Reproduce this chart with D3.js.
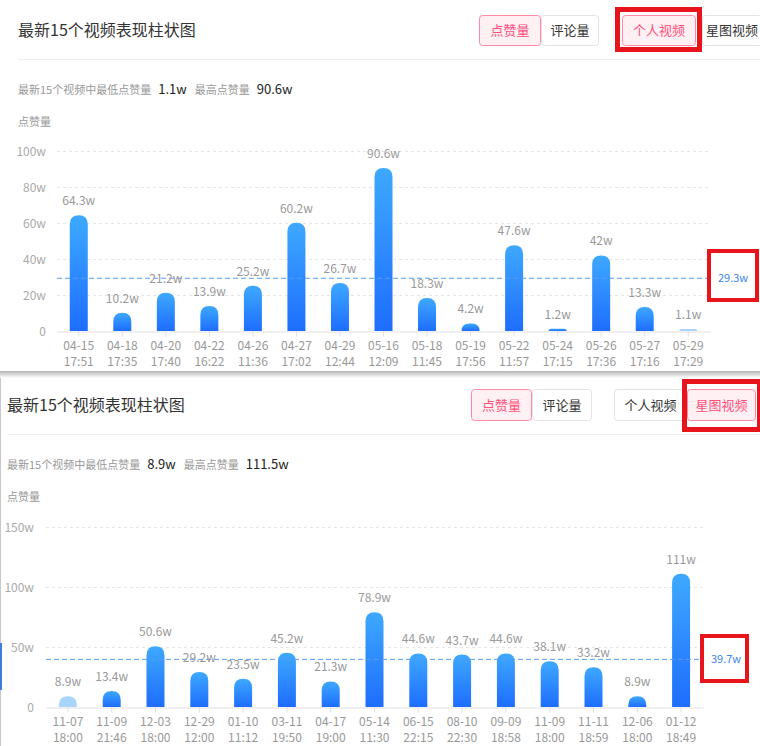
<!DOCTYPE html>
<html>
<head>
<meta charset="utf-8">
<script src="https://cdn.jsdelivr.net/npm/d3@7"></script>
<style>
  body { margin: 0; background: #fff; }
  svg { display: block; font-family: "Noto Sans CJK SC", "Noto Sans", sans-serif; }
</style>
</head>
<body>
<svg id="chart" width="760" height="746"></svg>
<script>
// ---- data: personal videos (top) ----
const personalDates = ["04-15 17:51", "04-18 17:35", "04-20 17:40", "04-22 16:22", "04-26 11:36",
  "04-27 17:02", "04-29 12:44", "05-16 12:09", "05-18 11:45", "05-19 17:56", "05-22 11:57",
  "05-24 17:15", "05-26 17:36", "05-27 17:16", "05-29 17:29"];
const personalLikes = [64.3, 10.2, 21.2, 13.9, 25.2, 60.2, 26.7, 90.6, 18.3, 4.2, 47.6, 1.2, 42, 13.3, 1.1];
const personalTicks = [0, 20, 40, 60, 80, 100];
const personalAvg = 29.3;
const personalMinMax = ["1.1w", "90.6w"];

// ---- data: xingtu videos (bottom) ----
const xingtuDates = ["11-07 18:00", "11-09 21:46", "12-03 18:00", "12-29 12:00", "01-10 11:12",
  "03-11 19:50", "04-17 19:00", "05-14 11:30", "06-15 22:15", "08-10 22:30", "09-09 18:58",
  "11-09 18:00", "11-11 18:59", "12-06 18:00", "01-12 18:49"];
const xingtuLikes = [8.9, 13.4, 50.6, 29.2, 23.5, 45.2, 21.3, 78.9, 44.6, 43.7, 44.6, 38.1, 33.2, 8.9, 111];
const xingtuTicks = [0, 50, 100, 150];
const xingtuAvg = 39.7;
const xingtuMinMax = ["8.9w", "111.5w"];

const svg = d3.select("#chart");

const defs = svg.append("defs");
const grad = defs.append("linearGradient").attr("id", "barGrad")
  .attr("x1", 0).attr("y1", 0).attr("x2", 0).attr("y2", 1);
grad.append("stop").attr("offset", "0%").attr("stop-color", "#3ea9ff");
grad.append("stop").attr("offset", "100%").attr("stop-color", "#1e6dfd");
const shadow = defs.append("linearGradient").attr("id", "shadowGrad")
  .attr("x1", 0).attr("y1", 0).attr("x2", 0).attr("y2", 1);
shadow.append("stop").attr("offset", "0%").attr("stop-color", "#b5b5b5");
shadow.append("stop").attr("offset", "100%").attr("stop-color", "#fff");

// rounded-top bar
function barPath(x, y, w, h, r) {
  r = Math.min(r, h, w / 2);
  return `M${x},${y + h}V${y + r}Q${x},${y} ${x + r},${y}H${x + w - r}Q${x + w},${y} ${x + w},${y + r}V${y + h}Z`;
}

function button(g, x, y, w, h, text, active) {
  g.append("rect").attr("x", x + 0.5).attr("y", y + 0.5).attr("width", w - 1).attr("height", h - 1)
    .attr("rx", 3)
    .attr("fill", active ? "#fff0f3" : "#fff")
    .attr("stroke", active ? "#ff8aa6" : "#e3e3e3");
  g.append("text").attr("x", x + w / 2).attr("y", y + h / 2 + 4.5)
    .attr("text-anchor", "middle").attr("font-size", 13)
    .attr("fill", active ? "#ff4f7b" : "#333").text(text);
}

function redBox(x, y, w, h, sw) {
  svg.append("rect").attr("x", x + sw / 2).attr("y", y + sw / 2)
    .attr("width", w - sw).attr("height", h - sw)
    .attr("fill", "none").attr("stroke", "#e8141c").attr("stroke-width", sw);
}

function panel(cfg) {
  const g = svg.append("g");
  const L = cfg.left;

  // title
  g.append("text").attr("x", L).attr("y", cfg.titleY + 5.5).attr("font-size", 16)
    .attr("fill", "#333").text("最新15个视频表现柱状图");
  g.append("line").attr("x1", L).attr("x2", 760).attr("y1", cfg.divY + 0.5).attr("y2", cfg.divY + 0.5)
    .attr("stroke", "#eee");

  // buttons
  const b = cfg.btn;
  button(g, b[1], cfg.btnY, b[2] - b[1], cfg.btnH, "评论量", false);
  button(g, b[0], cfg.btnY, b[1] - b[0], cfg.btnH, "点赞量", true);
  button(g, b[3], cfg.btnY, b[4] - b[3], cfg.btnH, "个人视频", cfg.personal);
  button(g, b[5], cfg.btnY, b[6] - b[5], cfg.btnH, "星图视频", !cfg.personal);

  // summary
  const s = g.append("text").attr("y", cfg.sumY + 4).attr("x", L);
  s.append("tspan").attr("font-size", 11).attr("fill", "#999").text("最新15个视频中最低点赞量");
  s.append("tspan").attr("dx", 7).attr("font-size", 13).attr("fill", "#222").text(cfg.minMax[0]);
  s.append("tspan").attr("dx", 8).attr("font-size", 11).attr("fill", "#999").text("最高点赞量");
  s.append("tspan").attr("dx", 7).attr("font-size", 13).attr("fill", "#222").text(cfg.minMax[1]);

  g.append("text").attr("x", L).attr("y", cfg.nameY + 4).attr("font-size", 11)
    .attr("fill", "#999").text("点赞量");

  // scales
  const x = d3.scaleBand().domain(cfg.dates).range(cfg.xRange);
  const y = d3.scaleLinear().domain([0, d3.max(cfg.ticks)]).range(cfg.yRange);

  // grid
  g.append("g").selectAll("line").data(cfg.ticks.filter(t => t > 0)).join("line")
    .attr("x1", cfg.xRange[0]).attr("x2", cfg.xRange[1])
    .attr("y1", d => Math.round(y(d)) + 0.5).attr("y2", d => Math.round(y(d)) + 0.5)
    .attr("stroke", "#e6e6e6").attr("stroke-dasharray", "3,3");

  // y axis
  const ya = g.append("g").attr("transform", `translate(${cfg.yLabelX},0)`)
    .call(d3.axisLeft(y).tickValues(cfg.ticks).tickSize(0).tickPadding(0)
      .tickFormat(d => d === 0 ? "0" : d + "w"));
  ya.select(".domain").remove();
  ya.selectAll("text").attr("font-size", 12).attr("fill", "#aaa")
    .attr("font-family", "'Noto Sans CJK SC', sans-serif").attr("dy", "0.35em");

  // x axis
  const xa = g.append("g").attr("transform", `translate(0,${Math.round(y(0)) + 0.5})`)
    .call(d3.axisBottom(x).tickSize(5).tickSizeOuter(0).tickFormat(""));
  xa.select(".domain").attr("stroke", "#e0e0e0");
  xa.selectAll(".tick line").attr("stroke", "#e0e0e0");
  const lab = g.append("g").selectAll("text").data(cfg.dates).join("text")
    .attr("text-anchor", "middle").attr("font-size", 12).attr("fill", "#999")
    .attr("transform", d => `translate(${x(d) + x.bandwidth() / 2},${y(0) + 19})`);
  lab.append("tspan").attr("x", 0).text(d => d.split(" ")[0]);
  lab.append("tspan").attr("x", 0).attr("dy", 16).text(d => d.split(" ")[1]);

  // bars
  const bw = 18;
  g.append("g").selectAll("path").data(cfg.values).join("path")
    .attr("d", (v, i) => barPath(x(cfg.dates[i]) + x.bandwidth() / 2 - bw / 2, y(v), bw, y(0) - y(v), 9))
    .attr("fill", (v, i) => i === cfg.lightIdx ? "#a9d4fb" : "url(#barGrad)");

  // average line
  g.append("line").attr("x1", cfg.xRange[0]).attr("x2", cfg.xRange[1])
    .attr("y1", y(cfg.avg)).attr("y2", y(cfg.avg))
    .attr("stroke", "#5a9cf6").attr("stroke-dasharray", "5,3");
  g.append("text").attr("x", cfg.avgX).attr("y", y(cfg.avg) + 4).attr("font-size", 11)
    .attr("fill", "#3b86f0").text(cfg.avg + "w");

  // value labels
  g.append("g").selectAll("text").data(cfg.values).join("text")
    .attr("x", (v, i) => x(cfg.dates[i]) + x.bandwidth() / 2)
    .attr("y", v => y(v) - 10)
    .attr("text-anchor", "middle").attr("font-size", 12).attr("fill", "#999")
    .text(v => v + "w");
}

panel({
  left: 18, titleY: 30, divY: 59, btnY: 15, btnH: 31,
  btn: [479, 541, 599, 622, 696, 702, 762], personal: true,
  sumY: 90, nameY: 122, minMax: personalMinMax,
  dates: personalDates, values: personalLikes, ticks: personalTicks, avg: personalAvg,
  xRange: [57, 710], yRange: [331, 151], yLabelX: 46, avgX: 718, lightIdx: 14
});

// panel separator
svg.append("rect").attr("x", 0).attr("y", 371).attr("width", 760).attr("height", 7).attr("fill", "url(#shadowGrad)");
svg.append("rect").attr("x", 0).attr("y", 378).attr("width", 760).attr("height", 368).attr("fill", "#fff");
svg.append("line").attr("x1", 0.5).attr("x2", 0.5).attr("y1", 378).attr("y2", 746).attr("stroke", "#c8c8c8");
svg.append("rect").attr("x", 0).attr("y", 643).attr("width", 2).attr("height", 47).attr("fill", "#3f7fd8");

panel({
  left: 7, titleY: 405, divY: 434, btnY: 389, btnH: 32,
  btn: [471, 532, 592, 614, 687, 687, 756], personal: false,
  sumY: 465, nameY: 497, minMax: xingtuMinMax,
  dates: xingtuDates, values: xingtuLikes, ticks: xingtuTicks, avg: xingtuAvg,
  xRange: [46, 703], yRange: [707, 527], yLabelX: 34, avgX: 711, lightIdx: 0
});

// red highlight boxes
redBox(615, 7, 87, 45, 5);
redBox(707, 249, 52, 53, 4);
redBox(682, 379, 80, 53, 5);
redBox(700, 634, 49, 49, 4);
</script>
</body>
</html>
